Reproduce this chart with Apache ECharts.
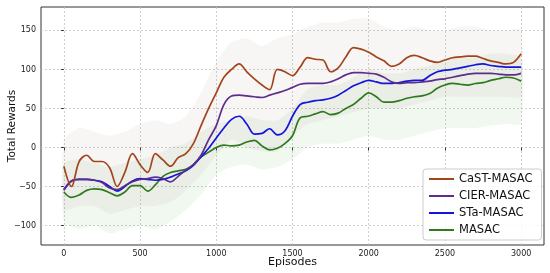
<!DOCTYPE html>
<html>
<head>
<meta charset="utf-8">
<script src="https://cdn.jsdelivr.net/npm/echarts@6/dist/echarts.min.js"></script>
<style>html,body{margin:0;padding:0;background:#fff}#c{width:550px;height:273px}</style>
</head>
<body>
<div id="c"></div>
<script>
const seriesNames = ['CaST-MASAC', 'CIER-MASAC', 'STa-MASAC', 'MASAC'];
const episodes = [0,50,100,150,200,250,300,350,400,450,500,550,600,650,700,750,800,850,900,950,1000,1050,1100,1150,1200,1250,1300,1350,1400,1450,1500,1550,1600,1650,1700,1750,1800,1850,1900,1950,2000,2050,2100,2150,2200,2250,2300,2350,2400,2450,2500,2550,2600,2650,2700,2750,2800,2850,2900,2950,3000];
const castMasac = [-24,-50,-18,-10,-18,-18,-26,-50,-32,-8,-22,-32,-8,-16,-24,-13,-8,5,28,50,70,90,100,107,97,88,80,74,100,97,92,103,115,113,112,97,102,116,128,126,122,116,111,104,107,115,118,115,111,109,112,115,116,117,117,114,111,109,107,109,120];
const cierMasac = [-55,-43,-41,-41,-42,-45,-52,-54,-49,-44,-41,-40,-38,-40,-44,-37,-29,-22,-10,10,28,55,66,67,66,65,64,67,70,73,77,81,82,82,82,84,88,93,96,96,95,94,90,84,82,83,83,84,85,87,88,90,92,94,95,95,95,94,93,93,95];
const staMasac = [-54,-43,-41,-41,-42,-44,-50,-56,-50,-43,-40,-41,-42,-41,-38,-34,-30,-23,-12,-1,12,25,36,40,30,17,18,24,16,21,40,55,58,60,61,63,67,73,79,83,86,84,82,82,83,85,86,86,92,97,99,100,102,104,106,107,105,104,103,103,103];
const masac = [-57,-64,-61,-55,-53,-54,-58,-62,-57,-49,-49,-56,-48,-37,-32,-30,-28,-22,-12,-6,0,3,2,3,7,9,2,-3,-1,5,15,38,40,43,46,42,44,50,55,63,70,65,58,58,60,63,65,66,69,76,80,82,81,80,82,83,86,88,90,89,85];

// faint raw-reward envelopes (estimated from the background haze)
const rawEpisodes = [0,100,200,300,400,500,600,700,800,900,1000,1100,1200,1300,1400,1500,1600,1700,1800,1900,2000,2100,2200,2300,2400,2500,2600,2700,2800,2900,3000];
const masacRawLow  = [-95,-105,-100,-110,-105,-100,-105,-95,-80,-60,-35,-25,-22,-28,-25,-15,0,5,5,10,15,10,10,15,20,25,25,25,28,30,30];
const masacRawHigh = [-20,-15,-20,-25,-20,-15,-10,0,5,20,30,35,40,35,35,50,75,80,80,90,100,95,95,100,105,115,115,115,120,120,115];
const otherRawLow  = [-80,-75,-75,-85,-80,-75,-75,-70,-55,-35,-10,10,0,-5,-5,15,30,35,40,45,50,50,50,55,60,65,65,65,65,65,65];
const otherRawHigh = [10,25,20,15,20,30,35,30,40,70,110,135,140,130,140,145,155,160,160,165,165,155,150,155,150,150,155,155,150,150,150];

const xTickLabels = [0,500,1000,1500,2000,2500,3000];
const yTickLabels = [-100,-50,0,50,100,150];

const colors = ['#a2451c', '#5c2d8a', '#1414dc', '#2f7a1e'];
const font = 'DejaVu Sans';
const minusFmt = v => String(v).replace('-', '\u2212');

function band(name, low, high, fill) {
  return {
    type: 'custom', name: name, silent: true, z: 1, clip: true,
    data: [[0, 0]],
    renderItem: function (params, api) {
      const pts = [];
      for (let i = 0; i < rawEpisodes.length; i++) pts.push(api.coord([rawEpisodes[i], high[i]]));
      for (let i = rawEpisodes.length - 1; i >= 0; i--) pts.push(api.coord([rawEpisodes[i], low[i]]));
      return { type: 'polygon', shape: { points: pts, smooth: 0.2 }, style: { fill: fill } };
    }
  };
}

function line(name, vals, color, z) {
  return {
    type: 'line', name: name, z: z, symbol: 'none', smooth: 0.35,
    data: episodes.map((e, i) => [e, vals[i]]),
    lineStyle: { color: color, width: 1.7 },
    itemStyle: { color: color }
  };
}

const chart = echarts.init(document.getElementById('c'), null, { renderer: 'canvas' });
chart.setOption({
  animation: false,
  backgroundColor: '#ffffff',
  grid: { left: 41, right: 6, top: 7, bottom: 28, show: true, borderColor: '#333', borderWidth: 1, containLabel: false, outerBoundsMode: 'none' },
  xAxis: {
    type: 'value', min: -150, max: 3150, splitNumber: 7,
    name: 'Episodes', nameLocation: 'middle', nameGap: 12, nameMoveOverlap: false,
    nameTextStyle: { fontFamily: font, fontSize: 11, color: '#111' },
    axisLine: { show: false },
    axisTick: { show: true, length: 3, lineStyle: { color: '#333' }, customValues: xTickLabels },
    axisLabel: { fontFamily: font, fontSize: 8, color: '#222', margin: 5, customValues: xTickLabels, formatter: minusFmt },
    splitLine: { show: true, lineStyle: { color: '#c4c4c4', type: [2, 2], width: 0.8 } }
  },
  yAxis: {
    type: 'value', min: -125, max: 180, splitNumber: 6,
    name: 'Total Rewards', nameLocation: 'middle', nameGap: 23, nameMoveOverlap: false, nameRotate: 90,
    nameTextStyle: { fontFamily: font, fontSize: 10.5, color: '#111' },
    axisLine: { show: false },
    axisTick: { show: true, length: 3, lineStyle: { color: '#333' }, customValues: yTickLabels },
    axisLabel: { fontFamily: font, fontSize: 8, color: '#222', margin: 5, customValues: yTickLabels, formatter: minusFmt },
    splitLine: { show: true, lineStyle: { color: '#c4c4c4', type: [2, 2], width: 0.8 } }
  },
  legend: {
    data: seriesNames,
    orient: 'vertical', left: 423, top: 169,
    icon: 'rect', itemWidth: 25, itemHeight: 2, itemGap: 3,
    padding: [3, 9, 3, 6],
    backgroundColor: 'rgba(255,255,255,0.85)', borderColor: '#cccccc', borderWidth: 1, borderRadius: 3,
    textStyle: { fontFamily: font, fontSize: 11.5, color: '#111', lineHeight: 14 }
  },
  series: [
    band('rawMasac', masacRawLow, masacRawHigh, 'rgba(70,170,70,0.08)'),
    band('rawOther', otherRawLow, otherRawHigh, 'rgba(150,120,110,0.07)'),
    line(seriesNames[3], masac, colors[3], 3),
    line(seriesNames[2], staMasac, colors[2], 4),
    line(seriesNames[1], cierMasac, colors[1], 5),
    line(seriesNames[0], castMasac, colors[0], 6)
  ]
});
</script>
</body>
</html>
